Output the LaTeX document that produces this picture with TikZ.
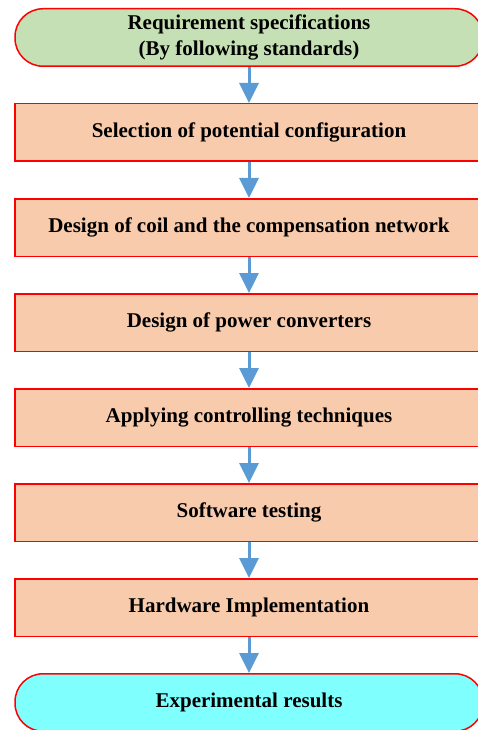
\documentclass[tikz,border=0pt]{standalone}
\usepackage{fontspec}
\setmainfont{Liberation Serif}
\usetikzlibrary{positioning,arrows.meta}
\definecolor{specgreen}{HTML}{C5E0B4}
\definecolor{stagepeach}{HTML}{F8CBAD}
\definecolor{resultcyan}{HTML}{80FFFF}
\definecolor{flowblue}{HTML}{5B9BD5}
\tikzset{
  box/.style={draw=red, line width=1.5pt, minimum width=468pt, minimum height=57.5pt, inner sep=0, align=center, font=\fontsize{21}{25.5}\selectfont\bfseries},
  stage/.style={box, fill=stagepeach},
  terminal/.style={box, rounded corners=28pt},
  flow/.style={-{Triangle[length=20pt,width=19pt]}, line width=3pt, draw=flowblue}
}
\begin{document}
\begin{tikzpicture}[x=1pt, y=1pt, node distance=36pt]
  \useasboundingbox (0,0) rectangle (478,-730);

  % start
  \node[terminal, fill=specgreen] (req) at (249,-37.5) {Requirement specifications\\(By following standards)};

  % design steps
  \node[stage, below=of req] (sel) {Selection of potential configuration};
  \node[stage, below=of sel] (coil) {Design of coil and the compensation network};
  \node[stage, below=of coil] (conv) {Design of power converters};
  \node[stage, below=of conv] (ctrl) {Applying controlling techniques};
  \node[stage, below=of ctrl] (soft) {Software testing};
  \node[stage, below=of soft] (hard) {Hardware Implementation};

  % end
  \node[terminal, fill=resultcyan, below=of hard] (res) {Experimental results};

  \foreach \a/\b in {req/sel, sel/coil, coil/conv, conv/ctrl, ctrl/soft, soft/hard, hard/res}
    \draw[flow] (\a) -- (\b);
\end{tikzpicture}
\end{document}
